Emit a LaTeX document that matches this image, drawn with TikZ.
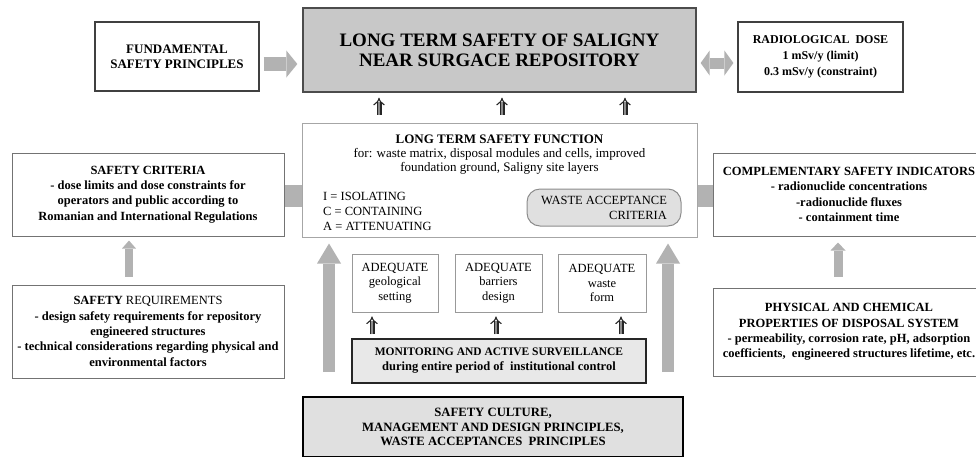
\documentclass[tikz,border=0pt]{standalone}
\usepackage{fontspec}
\setmainfont{Liberation Serif}
\usetikzlibrary{arrows.meta,calc}
\definecolor{arrgray}{HTML}{B2B2B2}
\definecolor{mainfill}{HTML}{C8C8C8}
\definecolor{wacfill}{HTML}{E0E0E0}
\definecolor{monfill}{HTML}{E8E8E8}
\definecolor{cultfill}{HTML}{E0E0E0}
\newcommand\setfs[2]{\fontsize{#1}{#2}\selectfont}
\tikzset{
  box/.style={draw, rectangle, inner sep=0pt, align=center},
  sidebox/.style={box, draw=black!55, line width=1pt, minimum width=272pt, font=\setfs{12.5}{15.3}\bfseries},
  adqbox/.style={box, draw=black!40, line width=0.8pt, minimum height=58pt, font=\setfs{12.5}{14.5}},
  bigarr/.style={draw=arrgray, line width=12pt, -{Triangle[width=24pt,length=20pt,line width=0pt]}},
  harr/.style={draw=arrgray, line width=14pt, -{Triangle[width=27pt,length=11pt,line width=0pt]}, shorten <=4pt, shorten >=5pt},
  darr/.style={draw=arrgray, line width=11pt, {Triangle[width=25pt,length=9pt,line width=0pt]}-{Triangle[width=25pt,length=9pt,line width=0pt]}, shorten <=4pt, shorten >=4pt},
  sarr/.style={draw=arrgray, line width=8pt, -{Triangle[width=14pt,length=8pt,line width=0pt]}},
  dbl/.style={draw=black!85, double=black!45, double distance=2.8pt, line width=1.1pt, -{Implies}},
  conn/.style={draw=arrgray, line width=22pt},
}
\begin{document}
\begin{tikzpicture}[x=1pt,y=-1pt]
\useasboundingbox (0,0) rectangle (976,456);
\clip (0,0) rectangle (976,456);

% top row
\node[box, draw=black!75, line width=1.2pt, minimum width=164pt, minimum height=69pt, font=\setfs{13}{15}\bfseries] (fund) at (177,56.5) {FUNDAMENTAL\\SAFETY PRINCIPLES};
\node[box, fill=mainfill, draw=black!70, line width=1.3pt, minimum width=393pt, minimum height=84pt, font=\setfs{19}{20}\bfseries] (main) at (499.5,50) {LONG TERM SAFETY OF SALIGNY\\NEAR SURGACE REPOSITORY};
\node[box, draw=black!75, line width=1.2pt, minimum width=165pt, minimum height=70pt, font=\setfs{12}{16}\bfseries] (rad) at (820.5,57) {RADIOLOGICAL\ \ DOSE\\1 mSv/y (limit)\\0.3 mSv/y (constraint)};

% middle row
\node[sidebox, minimum height=83pt] (crit) at (148,194.5) {SAFETY CRITERIA\\- dose limits and dose constraints for\\operators and public according to\\Romanian and International Regulations};
\node[box, draw=black!35, line width=1pt, minimum width=395pt, minimum height=114pt] (ltsf) at (499.5,180) {};
\node[align=center, inner sep=0pt, font=\setfs{13}{14}] (ltsftext) at (499.5,155) {\textbf{LONG TERM SAFETY FUNCTION}\\for: waste matrix, disposal modules and cells, improved\\foundation ground, Saligny site layers};
\node[align=left, inner sep=0pt, anchor=west, font=\setfs{12.5}{15}] (icalist) at (323,211) {I = ISOLATING\\C = CONTAINING\\A = ATTENUATING};
\node[box, align=right, rounded corners=13pt, fill=wacfill, draw=black!45, line width=1pt, minimum width=154pt, minimum height=37pt, font=\setfs{12.5}{15}] (wac) at (604,207.5) {WASTE ACCEPTANCE\\CRITERIA};
\node[sidebox, minimum height=83pt] (comp) at (849,194.5) {COMPLEMENTARY SAFETY INDICATORS\\- radionuclide concentrations\\-radionuclide fluxes\\- containment time};

% lower row
\node[sidebox, minimum height=93pt] (req) at (148,331.5) {SAFETY {\mdseries REQUIREMENTS}\\- design safety requirements for repository\\engineered structures\\- technical considerations regarding physical and\\environmental factors};
\node[sidebox, minimum height=88pt] (phys) at (849,332) {PHYSICAL AND CHEMICAL\\PROPERTIES OF DISPOSAL SYSTEM\\- permeability, corrosion rate, pH, adsorption\\coefficients,\ \ engineered structures lifetime, etc.};
\node[adqbox, minimum width=86pt] (adq1) at (395,283) {ADEQUATE\\geological\\setting};
\node[adqbox, minimum width=87pt] (adq2) at (498.5,283) {ADEQUATE\\barriers\\design};
\node[adqbox, minimum width=88pt] (adq3) at (602,283) {ADEQUATE\\waste\\form};
\node[box, fill=monfill, draw=black!85, line width=1.5pt, minimum width=294pt, minimum height=44pt, font=\setfs{12.5}{15}\bfseries] (mon) at (499,361) {{\setfs{11.5}{15}MONITORING AND ACTIVE SURVEILLANCE}\\during entire period of\ \ institutional control};
\node[box, fill=cultfill, draw=black, line width=2pt, minimum width=380pt, minimum height=60pt, font=\setfs{12.7}{14.5}\bfseries] (cult) at (493,427) {SAFETY CULTURE,\\MANAGEMENT AND DESIGN PRINCIPLES,\\WASTE ACCEPTANCES\ \ PRINCIPLES};

% connectors
\draw[harr] (fund.east |- 0,64) -- (main.west |- 0,64);
\draw[darr] (main.east |- 0,63) -- (rad.west |- 0,63);
\draw[conn] (crit.east |- 0,196) -- (ltsf.west |- 0,196);
\draw[conn] (ltsf.east |- 0,196) -- (comp.west |- 0,196);
\draw[sarr, shorten <=8pt, shorten >=4pt] (129,0 |- req.north) -- (129,0 |- crit.south);
\draw[sarr, line width=9pt, -{Triangle[width=15pt,length=8pt,line width=0pt]}, shorten <=11pt, shorten >=6pt] (838,0 |- phys.north) -- (838,0 |- comp.south);
\draw[bigarr, shorten <=24pt, shorten >=6pt] (329,0 |- cult.north) -- (329,0 |- ltsf.south);
\draw[bigarr, shorten <=24pt, shorten >=6pt] (668,0 |- cult.north) -- (668,0 |- ltsf.south);
\foreach \x in {379,502,625}
  \draw[dbl, shorten <=8pt, shorten >=5pt] (\x,0 |- ltsf.north) -- (\x,0 |- main.south);
\draw[dbl, shorten <=4pt, shorten >=4pt] (372,0 |- mon.north) -- (372,0 |- adq1.south);
\draw[dbl, shorten <=4pt, shorten >=4pt] (496,0 |- mon.north) -- (496,0 |- adq2.south);
\draw[dbl, shorten <=4pt, shorten >=4pt] (621,0 |- mon.north) -- (621,0 |- adq3.south);
\end{tikzpicture}
\end{document}
